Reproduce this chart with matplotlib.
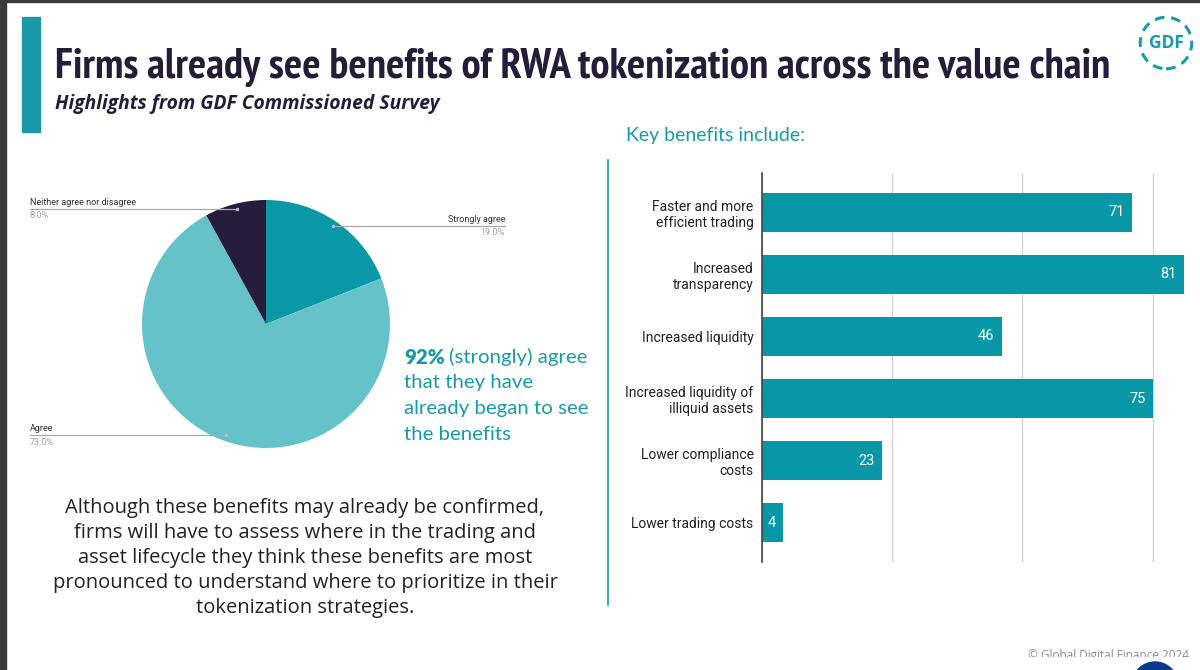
import matplotlib
matplotlib.use('Agg')
import matplotlib.pyplot as plt
from matplotlib import font_manager as fm
from matplotlib.patches import Rectangle, Circle
from matplotlib.transforms import Bbox
import numpy as np

# --- data ---
pie_labels = ['Strongly agree', 'Agree', 'Neither agree nor disagree']
pie_values = [19.0, 73.0, 8.0]
pie_colors = ['#0a97a6', '#66c2c9', '#261c3b']

benefits = ['Faster and more\nefficient trading', 'Increased\ntransparency',
            'Increased liquidity', 'Increased liquidity of\nilliquid assets',
            'Lower compliance\ncosts', 'Lower trading costs']
benefit_counts = [71, 81, 46, 75, 23, 4]

title = 'Firms already see benefits of RWA tokenization across the value chain'
subtitle = 'Highlights from GDF Commissioned Survey'
bar_title = 'Key benefits include:'
callout_lines = ['(strongly) agree', 'that they have', 'already began to see', 'the benefits']
callout_bold = '92%'
paragraph = ('Although these benefits may already be confirmed,\n'
             'firms will have to assess where in the trading and\n'
             'asset lifecycle they think these benefits are most\n'
             'pronounced to understand where to prioritize in their\n'
             'tokenization strategies.')
footer = '\u00a9 Global Digital Finance 2024'

TEAL = '#1a99a7'
BAR = '#0797a6'
NAVY = '#231d3a'

W, H = 1200, 670


def px(x, y):
    return x / W, 1 - y / H


def fit(t, width, r):
    w = t.get_window_extent(r).width
    t.set_fontsize(t.get_fontsize() * width / w)


# pick a narrow bold font for the title if one is installed
cond = None
for f in fm.fontManager.ttflist:
    n = f.fname.lower()
    if ('narrow' in n or 'condensed' in n) and 'bold' in n and 'italic' not in n and 'oblique' not in n:
        cond = f.fname
        if 'narrow' in n:
            break
title_fp = fm.FontProperties(fname=cond) if cond else fm.FontProperties(family='Lato', weight='bold')

fig = plt.figure(figsize=(12, 6.7), dpi=100)
fig.patch.set_facecolor('white')
r = fig.canvas.get_renderer()

# frame edges of the screenshot
fig.patches.append(Rectangle(px(0, 670), 6 / W, 1, transform=fig.transFigure, color='#3b3b3b', zorder=0))
fig.patches.append(Rectangle(px(0, 2), 1, 2 / H, transform=fig.transFigure, color='#3b3b3b', zorder=0))

# left accent bar
fig.patches.append(Rectangle(px(22, 132), 18 / W, 115 / H, transform=fig.transFigure, color=TEAL))

t = fig.text(*px(55, 78), title, fontproperties=title_fp, fontsize=28, color=NAVY, va='baseline')
fit(t, 1053, r)
t = fig.text(*px(55, 109), subtitle, family='Open Sans', weight='bold', style='italic',
             fontsize=14, color=NAVY, va='baseline')
fit(t, 385, r)

# GDF logo
lax = fig.add_axes([1138 / W, 1 - 71 / H, 56 / W, 56 / H])
lax.set_xlim(-1, 1)
lax.set_ylim(-1, 1)
lax.axis('off')
lax.add_patch(Circle((0, 0), 0.92, fill=False, ec=TEAL, lw=2.2, ls=(0, (3.2, 2.2))))
lax.text(0, 0, 'GDF', ha='center', va='center', color=TEAL, family='Open Sans',
         weight='bold', fontsize=12.5)

# divider
fig.add_artist(plt.Line2D([608 / W, 608 / W], [1 - 160 / H, 1 - 605 / H], color=TEAL, lw=1.2))

# --- pie ---
pax = fig.add_axes([142 / W, 1 - 448 / H, 248 / W, 248 / H])
wedges, _ = pax.pie(pie_values, colors=pie_colors, startangle=90, counterclock=False,
                    radius=1, wedgeprops=dict(linewidth=0))
pax.set_xlim(-1, 1)
pax.set_ylim(-1, 1)
pax.set_aspect('auto')

label_x = {'Strongly agree': (505 - 266) / 124, 'Agree': (30 - 266) / 124,
           'Neither agree nor disagree': (30 - 266) / 124}
for w, lab, v in zip(wedges, pie_labels, pie_values):
    ang = np.deg2rad((w.theta1 + w.theta2) / 2)
    dx, dy = 0.955 * np.cos(ang), 0.955 * np.sin(ang)
    lx = label_x[lab]
    pax.plot([dx, lx], [dy, dy], color='#a8a8a8', lw=0.9, clip_on=False)
    pax.plot([dx], [dy], 'o', ms=1.5, color='#bbbbbb', clip_on=False)
    ha = 'right' if lx > 0 else 'left'
    pax.annotate(lab, (lx, dy), xytext=(0, 1.5), textcoords='offset points', ha=ha, va='bottom',
                 fontsize=6.5, family='Roboto', color='#333333', annotation_clip=False)
    pax.annotate(f'{v:.1f}%', (lx, dy), xytext=(0, -1.5), textcoords='offset points', ha=ha, va='top',
                 fontsize=6.5, family='Roboto', color='#a0a0a0', annotation_clip=False)

# callout next to the pie
tb = fig.text(*px(404, 357), callout_bold, family='Lato', weight='heavy', fontsize=15,
              color=TEAL, va='center')
line_texts = []
for i, line in enumerate(callout_lines):
    line_texts.append(fig.text(*px(404, 357 + 25.7 * i), line, family='Lato',
                               fontsize=15, color=TEAL, va='center'))
k = 185 / line_texts[2].get_window_extent(r).width
for t in line_texts + [tb]:
    t.set_fontsize(15 * k)
bx = tb.get_window_extent(r)
line_texts[0].set_x((bx.x1 + 4) / W)

# paragraph
t = fig.text(*px(305, 558), paragraph, family='Open Sans', fontsize=13, color='#222222',
             ha='center', va='center', multialignment='center', linespacing=1.35)
fit(t, 502, r)

# --- bar chart ---
fig.text(*px(626, 136), bar_title, family='Lato', fontsize=14, color=TEAL, va='center')
fit(fig.texts[-1], 180, r)

bax = fig.add_axes([762 / W, 1 - 562 / H, 427 / W, 389 / H])
y = np.arange(len(benefits))
bax.barh(y, benefit_counts, height=0.63, color=BAR, zorder=3)
bax.set_xlim(0, 82)
bax.set_ylim(len(benefits) - 0.37, -0.63)
bax.set_xticks([0, 25, 50, 75])
bax.set_xticklabels([])
bax.grid(axis='x', color='#d4d4d4', lw=1, zorder=0)
bax.tick_params(length=0, pad=6)
bax.set_yticks(y)
bax.set_yticklabels(benefits, family='Roboto', fontsize=10, color='#222222', linespacing=1.2)
for lab in bax.get_yticklabels():
    lab.set_multialignment('right')
for s in ['top', 'right', 'bottom']:
    bax.spines[s].set_visible(False)
bax.spines['left'].set_color('#444444')
bax.spines['left'].set_linewidth(1.2)
bax.spines['left'].set_zorder(4)
for yi, v in zip(y, benefit_counts):
    bax.annotate(str(v), (v, yi), xytext=(-5, 0), textcoords='offset points', ha='right',
                 va='center', color='white', fontsize=10.5, family='Roboto', zorder=5)

# footer, cropped at the bottom like the screenshot
ft = fig.text(*px(1189, 655), footer, family='Open Sans', fontsize=8.5, color='#8a8a8a',
              ha='right', va='center')
ft.set_clip_box(Bbox([[0, H - 656.5], [W, H]]))
ft.set_clip_on(True)
fig.patches.append(Circle((1155, -15), 23, transform=None, color='#0b3a8c'))

fig.savefig('out.png', dpi=100)
